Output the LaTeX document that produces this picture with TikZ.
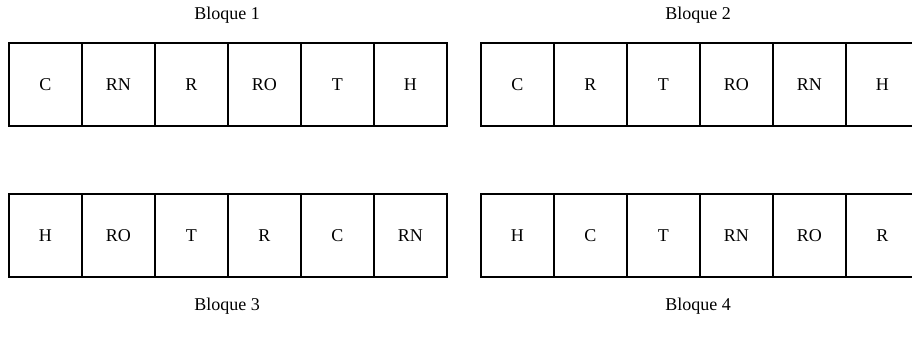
\documentclass[tikz,border=0pt]{standalone}
\usepackage{fontspec}
\setmainfont{Liberation Serif}
\begin{document}
\begin{tikzpicture}[x=1pt,y=-1pt,
  cell/.style={draw, line width=1.8pt, minimum width=73pt, minimum height=83pt,
    anchor=north west, inner sep=0pt, font=\fontsize{18}{21}\selectfont},
  lbl/.style={font=\fontsize{18}{21}\selectfont}]
\useasboundingbox (0,0) rectangle (912,350);
\clip (0,0) rectangle (912,350);
\foreach \t [count=\i] in {C,RN,R,RO,T,H}
  \node[cell] (b1c\i) at ({8+73*(\i-1)},42) {\t};
\foreach \t [count=\i] in {C,R,T,RO,RN,H}
  \node[cell] (b2c\i) at ({480+73*(\i-1)},42) {\t};
\foreach \t [count=\i] in {H,RO,T,R,C,RN}
  \node[cell] (b3c\i) at ({8+73*(\i-1)},193) {\t};
\foreach \t [count=\i] in {H,C,T,RN,RO,R}
  \node[cell] (b4c\i) at ({480+73*(\i-1)},193) {\t};
\node[lbl] (l1) at (227,15) {Bloque 1};
\node[lbl] (l2) at (698,15) {Bloque 2};
\node[lbl] (l3) at (227,306) {Bloque 3};
\node[lbl] (l4) at (698,306) {Bloque 4};
\end{tikzpicture}
\end{document}
